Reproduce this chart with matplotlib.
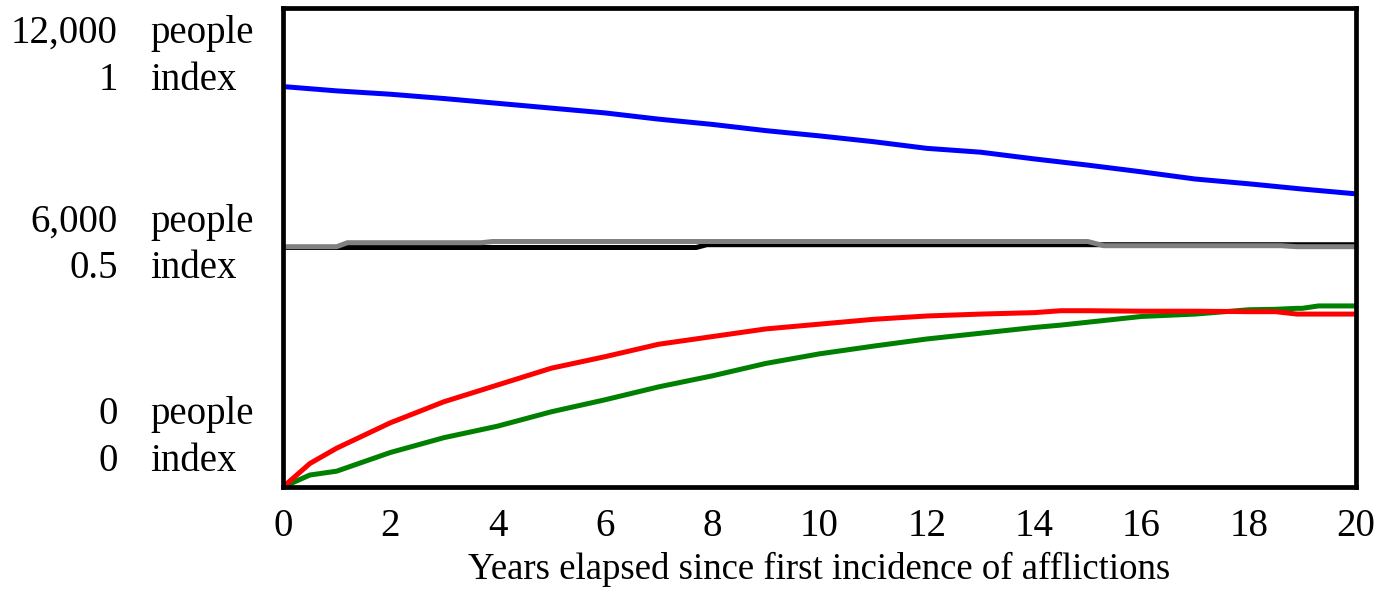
import matplotlib
matplotlib.use("Agg")
import matplotlib.pyplot as plt
from matplotlib.ticker import MultipleLocator
import numpy as np

plt.rcParams['font.family'] = ['Liberation Serif', 'DejaVu Serif']

# index series (yearly)
years = [0, 1, 2, 3, 4, 5, 6, 7, 8, 9, 10, 11, 12, 13, 14, 15, 16, 17, 18, 19, 20]
blue = [0.836, 0.827, 0.820, 0.811, 0.801, 0.791, 0.781, 0.768, 0.757, 0.744, 0.733,
        0.721, 0.707, 0.699, 0.685, 0.672, 0.658, 0.643, 0.633, 0.622, 0.612]

rg_years = [0, 0.5, 1, 2, 3, 4, 5, 6, 7, 8, 9, 10, 11, 12, 13, 14, 14.5, 15, 16, 17, 18, 18.5, 18.9, 19, 19.3, 20]
red = [0, 0.049, 0.081, 0.134, 0.178, 0.213, 0.248, 0.272, 0.298, 0.314, 0.330, 0.340,
       0.350, 0.357, 0.361, 0.364, 0.368, 0.368, 0.367, 0.367, 0.366, 0.366, 0.361, 0.361, 0.361, 0.361]
green = [0, 0.025, 0.033, 0.072, 0.103, 0.127, 0.157, 0.182, 0.209, 0.232, 0.258, 0.278,
         0.294, 0.309, 0.321, 0.333, 0.338, 0.344, 0.356, 0.361, 0.370, 0.371, 0.373, 0.373, 0.378, 0.378]

# people series
gray_years = [0, 1.0, 1.2, 3.7, 3.9, 15.0, 15.3, 18.6, 18.9, 20]
gray = [6020, 6020, 6120, 6120, 6150, 6150, 6045, 6045, 6020, 6020]
black_years = [0, 7.7, 7.9, 20]
black = [6000, 6000, 6070, 6070]

people_max = 12000
index_max = 1.0

# left-hand scale labels: (axis fraction, people value, index value)
scale_rows = [(1.0, "12,000", "1"), (0.5, "6,000", "0.5"), (0.0, "0", "0")]

fig = plt.figure(figsize=(13.82, 5.89), dpi=100)
ax = fig.add_axes([0.2048, 0.1732, 0.9812 - 0.2048, 0.9864 - 0.1732])

lw = 3.6
style = dict(lw=lw, solid_joinstyle='round', solid_capstyle='round')
# people lines scaled onto the index axis
ax.plot(black_years, np.array(black) / people_max * index_max, color='black', **style)
ax.plot(gray_years, np.array(gray) / people_max * index_max, color='#808080', **style)
ax.plot(years, blue, color='#0000ff', **style)
ax.plot(rg_years, green, color='#008000', **style)
ax.plot(rg_years, red, color='#ff0000', **style)

ax.set_xlim(0, 20)
ax.set_ylim(0, index_max)
for s in ax.spines.values():
    s.set_linewidth(3.4)

ax.xaxis.set_major_locator(MultipleLocator(2))
ax.xaxis.set_minor_locator(MultipleLocator(1))
ax.tick_params(axis='x', which='major', length=0, labelsize=28, pad=15)
ax.tick_params(axis='x', which='minor', direction='in', length=3, width=1, color='white')
ax.set_yticks([])
ax.set_yticks([0.25, 0.75], minor=True)
ax.tick_params(axis='y', which='minor', direction='in', length=3, width=1, color='white',
               right=True, left=True)
ax.set_xlabel("Years elapsed since first incidence of afflictions", fontsize=26.5, labelpad=5)

# dual-unit labels, two rows per scale position, kept inside the axes height
ax_h = ax.get_position().height * fig.get_figheight() * fig.dpi
to_fig = fig.transFigure.inverted()
trans = ax.get_yaxis_transform()
for yv, pv, iv in scale_rows:
    if yv == 1.0:
        offs = (-25, -72)
    elif yv == 0.0:
        offs = (72, 25)
    else:
        offs = (25, -21)
    for off, v, u in [(offs[0], pv, "people"), (offs[1], iv, "index")]:
        yf = to_fig.transform(trans.transform((0, yv + off / ax_h)))[1]
        fig.text(118 / 1382, yf, v, fontsize=28, ha='right', va='center')
        fig.text(150 / 1382, yf, u, fontsize=28, ha='left', va='center')

fig.savefig("out.png", dpi=100)
